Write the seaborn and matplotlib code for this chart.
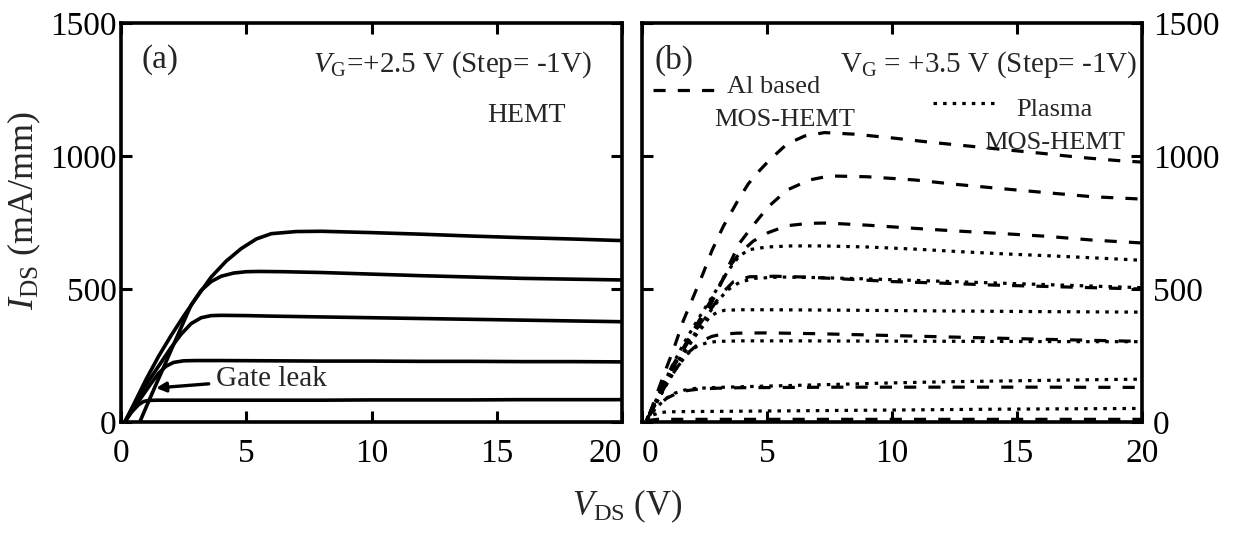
import matplotlib
matplotlib.use("Agg")
import matplotlib.pyplot as plt
import numpy as np
import pandas as pd
import seaborn as sns
from matplotlib.lines import Line2D

# ---------------- data: panel (a) HEMT, VG = +2.5 V ... -1.5 V ----------------
a_vg_labels = ["+2.5 V", "+1.5 V", "+0.5 V", "-0.5 V", "-1.5 V"]
a_x_1 = [0.15, 0.5, 1.0, 1.5, 2.0, 2.5, 3.0, 3.6, 4.2, 4.8, 5.4, 6.0, 7.0, 8.0, 10, 12, 14, 16, 18, 20]
a_y_1 = [0, 65, 160, 247, 325, 398, 466, 545, 605, 652, 688, 708, 716, 717, 712, 706, 699, 693, 688, 682]
a_x_2 = [0.75, 1.0, 1.36, 1.7, 2.0, 2.4, 2.8, 3.2, 3.6, 4.0, 4.5, 5.0, 5.5, 6.5, 8, 10, 12, 14, 16, 18, 20]
a_y_2 = [0, 55, 133, 205, 270, 355, 440, 495, 528, 548, 560, 565, 566, 565, 562, 556, 550, 545, 540, 537, 534]
a_x_3 = [0.15, 0.5, 1.0, 1.5, 2.0, 2.4, 2.8, 3.2, 3.6, 4.0, 5, 6, 8, 10, 12, 14, 16, 18, 20]
a_y_3 = [0, 60, 140, 210, 280, 330, 370, 392, 400, 401, 400, 398, 395, 392, 389, 386, 383, 380, 377]
a_x_4 = [0.15, 0.5, 0.83, 1.2, 1.5, 1.8, 2.1, 2.5, 3, 4, 6, 8, 10, 12, 14, 16, 18, 20]
a_y_4 = [0, 50, 95, 145, 183, 210, 224, 230, 231, 231, 230, 229, 229, 228, 228, 227, 227, 226]
a_x_5 = [0.15, 0.4, 0.7, 0.9, 1.1, 1.4, 2, 4, 6, 8, 10, 12, 14, 16, 18, 20]
a_y_5 = [0, 35, 65, 77, 81, 82, 82, 82, 82, 82, 83, 83, 83, 84, 84, 84]

# ---------------- data: panel (b) Al based (dashed) and Plasma (dotted) MOS-HEMT ----------------
b_al_x_1 = [0.3, 0.9, 1.25, 1.65, 2.05, 2.45, 2.8, 3.25, 3.85, 4.25, 4.7, 5.1, 5.8, 6.5, 7.3, 8.5, 10, 11.5, 13, 14.5, 16, 17.5, 19, 20]
b_al_y_1 = [30, 185, 270, 380, 470, 560, 645, 735, 835, 895, 945, 985, 1045, 1075, 1088, 1082, 1068, 1052, 1038, 1024, 1010, 995, 983, 977]
b_al_x_2 = [0.3, 0.9, 1.4, 1.9, 2.3, 2.7, 3.1, 3.45, 3.9, 4.4, 5.05, 5.8, 6.7, 7.5, 9, 10.9, 12.6, 14.3, 16.2, 18, 20]
b_al_y_2 = [30, 160, 240, 315, 375, 433, 509, 584, 672, 734, 809, 872, 910, 925, 922, 910, 893, 878, 862, 847, 838]
b_al_x_3 = [0.3, 0.9, 1.4, 1.9, 2.4, 2.9, 3.3, 3.6, 3.9, 4.45, 5.05, 5.8, 6.7, 7.4, 9, 10.9, 12.6, 14.3, 16.2, 18, 20]
b_al_y_3 = [30, 150, 235, 320, 400, 480, 545, 597, 634, 680, 712, 738, 747, 748, 740, 728, 718, 709, 698, 684, 673]
b_al_x_4 = [0.3, 0.9, 1.4, 1.9, 2.4, 2.8, 3.2, 3.65, 4.3, 5.3, 6.5, 8, 10, 12, 14, 16, 18, 20]
b_al_y_4 = [30, 145, 230, 310, 380, 430, 484, 527, 546, 548, 545, 538, 528, 522, 515, 510, 505, 500]
b_al_x_5 = [0.3, 0.9, 1.4, 1.9, 2.4, 2.8, 3.2, 3.8, 5, 7, 10, 13, 16, 18, 20]
b_al_y_5 = [25, 130, 205, 265, 305, 322, 330, 334, 335, 332, 325, 318, 311, 307, 303]
b_al_x_6 = [0.2, 0.6, 1.0, 1.4, 1.8, 2.3, 3, 4, 6, 8, 10, 13, 16, 20]
b_al_y_6 = [15, 60, 90, 108, 118, 124, 127, 129, 130, 131, 131, 131, 131, 130]
b_al_x_7 = [0.2, 0.6, 1.0, 2, 5, 10, 15, 20]
b_al_y_7 = [5, 10, 10, 10, 10, 10, 10, 10]

b_pl_x_1 = [0.2, 0.7, 1.2, 1.7, 2.2, 2.6, 3.0, 3.45, 3.9, 4.3, 5.0, 6, 7.2, 9, 10.9, 12.8, 14.5, 16.5, 18.3, 20]
b_pl_y_1 = [10, 110, 210, 300, 380, 440, 500, 570, 625, 648, 658, 662, 662, 658, 650, 640, 632, 624, 616, 608]
b_pl_x_2 = [0.2, 0.7, 1.2, 1.7, 2.2, 2.6, 3.0, 3.4, 3.9, 4.5, 5.5, 7, 9, 11, 13, 15, 17, 19, 20]
b_pl_y_2 = [10, 100, 190, 270, 345, 400, 450, 495, 525, 540, 545, 543, 538, 532, 526, 520, 514, 508, 505]
b_pl_x_3 = [0.2, 0.7, 1.2, 1.7, 2.1, 2.4, 2.7, 3.0, 3.3, 4, 5, 7, 10, 13, 16, 20]
b_pl_y_3 = [10, 95, 180, 260, 320, 355, 395, 412, 420, 422, 422, 421, 419, 417, 415, 413]
b_pl_x_4 = [0.2, 0.6, 1.0, 1.4, 1.8, 2.2, 2.6, 3.0, 4, 6, 10, 14, 18, 20]
b_pl_y_4 = [10, 75, 145, 205, 255, 285, 298, 303, 305, 305, 304, 303, 302, 302]
b_pl_x_5 = [0.2, 0.5, 0.9, 1.3, 1.7, 2.1, 3, 5, 8, 10, 12, 15, 18, 20]
b_pl_y_5 = [8, 45, 85, 108, 120, 126, 130, 135, 142, 147, 151, 155, 159, 161]
b_pl_x_6 = [0.15, 0.4, 0.7, 1.0, 1.5, 3, 6, 10, 14, 18, 20]
b_pl_y_6 = [5, 25, 35, 38, 39, 40, 42, 45, 48, 50, 51]

x_ticks = [0, 5, 10, 15, 20]
y_ticks = [0, 500, 1000, 1500]
device_names = ["Al based", "Plasma"]

# ---------------- build tables ----------------
def frame(pairs, device):
    parts = []
    for i, (xs, ys) in enumerate(pairs):
        parts.append(pd.DataFrame({"Vds": xs, "Ids": ys,
                                   "curve": f"{device}-{i}", "device": device}))
    return parts

df_a = pd.concat(frame([(a_x_1, a_y_1), (a_x_2, a_y_2), (a_x_3, a_y_3),
                        (a_x_4, a_y_4), (a_x_5, a_y_5)], "HEMT"), ignore_index=True)
df_b = pd.concat(
    frame([(b_al_x_1, b_al_y_1), (b_al_x_2, b_al_y_2), (b_al_x_3, b_al_y_3),
           (b_al_x_4, b_al_y_4), (b_al_x_5, b_al_y_5), (b_al_x_6, b_al_y_6),
           (b_al_x_7, b_al_y_7)], device_names[0]) +
    frame([(b_pl_x_1, b_pl_y_1), (b_pl_x_2, b_pl_y_2), (b_pl_x_3, b_pl_y_3),
           (b_pl_x_4, b_pl_y_4), (b_pl_x_5, b_pl_y_5), (b_pl_x_6, b_pl_y_6)],
          device_names[1]), ignore_index=True)

# ---------------- style ----------------
sns.set_style("white")
plt.rcParams["font.family"] = ["Liberation Serif", "DejaVu Serif"]
plt.rcParams["mathtext.fontset"] = "custom"
plt.rcParams["mathtext.rm"] = "Liberation Serif"
plt.rcParams["mathtext.it"] = "Liberation Serif:italic"
plt.rcParams["mathtext.bf"] = "Liberation Serif:bold"

W, H = 1234, 534
fig = plt.figure(figsize=(W / 100, H / 100), dpi=100)
axA = fig.add_axes([121 / W, 1 - 422 / H, 501 / W, 399 / H])
axB = fig.add_axes([642 / W, 1 - 422 / H, 500 / W, 399 / H])

dash_al = (3.8, 3.8)
dash_pl = (1.1, 1.9)

sns.lineplot(data=df_a, x="Vds", y="Ids", units="curve", estimator=None, sort=False,
             color="black", lw=2.6, legend=False, ax=axA)
sns.lineplot(data=df_b, x="Vds", y="Ids", units="curve", style="device",
             dashes={device_names[0]: dash_al, device_names[1]: dash_pl},
             estimator=None, sort=False, color="black", lw=2.3, legend=False, ax=axB)

for ax in (axA, axB):
    ax.set_xlim(0, 20)
    ax.set_ylim(0, 1500)
    ax.set_xticks(x_ticks)
    ax.set_yticks(y_ticks)
    ax.set_xlabel("")
    ax.set_ylabel("")
    for s in ax.spines.values():
        s.set_linewidth(2.6)
        s.set_color("black")
        s.set_visible(True)
    ax.tick_params(direction="in", length=8, width=2.2, top=True, right=True,
                   left=True, bottom=True, labelsize=24, colors="black")
    ax.tick_params(axis="x", pad=12)

axA.tick_params(axis="y", pad=3, labelleft=True, labelright=False)
axB.tick_params(axis="y", pad=8, labelleft=False, labelright=True)

# the "20" of (a) and the "0" of (b) sit side by side, reading as "200"
fig.canvas.draw()
axA.get_xticklabels()[-1].set_horizontalalignment("right")
axA.get_xticklabels()[-1].set_x(20)
axB.get_xticklabels()[0].set_horizontalalignment("left")

fs_txt = 21
# panel (a) texts
axA.text(1.56, 1361, "(a)", fontsize=24, ha="center", va="center")
axA.text(18.8, 1318, r"$V_{\mathrm{G}}$=+2.5 V (Step= -1V)", fontsize=fs_txt,
         ha="right", va="baseline")
axA.text(16.2, 1154, "HEMT", fontsize=20, ha="center", va="center")
axA.annotate("Gate leak", xy=(1.4, 128), xytext=(3.8, 162), fontsize=fs_txt,
             ha="left", va="center",
             arrowprops=dict(arrowstyle="-|>", color="black", lw=2.4,
                             mutation_scale=14, shrinkA=3, shrinkB=0))

# panel (b) texts
axB.text(1.28, 1361, "(b)", fontsize=24, ha="center", va="center")
axB.text(19.8, 1318, r"$\mathrm{V}_{\mathrm{G}}$ = +3.5 V (Step= -1V)", fontsize=fs_txt,
         ha="right", va="baseline")
axB.text(5.28, 1259, "Al based", fontsize=19, ha="center", va="center")
axB.text(5.72, 1135, "MOS-HEMT", fontsize=19, ha="center", va="center")
axB.text(16.5, 1173, "Plasma", fontsize=19, ha="center", va="center")
axB.text(16.5, 1049, "MOS-HEMT", fontsize=19, ha="center", va="center")

h_al = Line2D([], [], color="black", lw=2.3, dashes=dash_al)
h_pl = Line2D([], [], color="black", lw=2.3, dashes=dash_pl)
leg1 = axB.legend(handles=[h_al], labels=[""], loc="center left",
                  bbox_to_anchor=(0.022, 0.827), frameon=False, borderpad=0,
                  borderaxespad=0, handlelength=2.5, handletextpad=0, fontsize=19)
axB.add_artist(leg1)
axB.legend(handles=[h_pl], labels=[""], loc="center left",
           bbox_to_anchor=(0.582, 0.794), frameon=False, borderpad=0,
           borderaxespad=0, handlelength=2.5, handletextpad=0, fontsize=19)

# shared axis labels
fig.text(627 / W, 1 - 515 / H, r"$V_{\mathrm{DS}}$ (V)", fontsize=25,
         ha="center", va="baseline")
fig.text(24 / W, 1 - 210 / H, r"$I_{\mathrm{DS}}$ (mA/mm)", fontsize=26,
         ha="center", va="center", rotation=90)

fig.savefig("out.png", dpi=100, facecolor="white")
